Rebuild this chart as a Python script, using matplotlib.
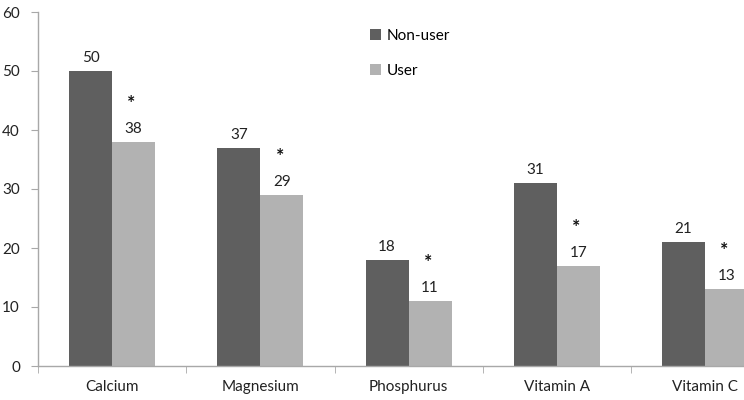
import matplotlib.pyplot as plt
import numpy as np

categories = ["Calcium", "Magnesium", "Phosphurus", "Vitamin A", "Vitamin C"]
non_user = [50, 37, 18, 31, 21]
user = [38, 29, 11, 17, 13]
significant = [True, True, True, True, True]

plt.rcParams['font.family'] = ['Lato', 'DejaVu Sans']

fig = plt.figure(figsize=(7.44, 4.0), dpi=100)
ax = fig.add_axes([38 / 744, 34 / 400, 706 / 744, 354 / 400])

x = np.arange(len(categories))
w = 0.29
dark = "#5f5f5f"
light = "#b2b2b2"
fs = 11

ax.bar(x - w / 2, non_user, w, color=dark, label="Non-user")
ax.bar(x + w / 2, user, w, color=light, label="User")

# value labels and asterisks
for i in range(len(categories)):
    ax.annotate(str(non_user[i]), (x[i] - w / 2, non_user[i]), xytext=(0, 6),
                textcoords="offset pixels", ha="center", va="bottom", fontsize=fs, color="#222222")
    ax.annotate(str(user[i]), (x[i] + w / 2, user[i]), xytext=(0, 6),
                textcoords="offset pixels", ha="center", va="bottom", fontsize=fs, color="#222222")
    if significant[i]:
        ax.annotate("*", (x[i] + w / 2, user[i]), xytext=(-2, 30),
                    textcoords="offset pixels", ha="center", va="bottom", fontsize=14,
                    fontweight="bold", color="#111111")

ax.set_yticks(range(0, 61, 10))
ax.set_xticks(x)
ax.set_xticklabels(categories, fontsize=fs, color="#222222")
ax.set_xticks(np.arange(-0.5, len(categories), 1), minor=True)
ax.set_xlim(-0.5, -0.5 + 706 / 148.25)
ax.set_ylim(0, 60)
ax.tick_params(axis="x", which="major", length=0, pad=10)
ax.tick_params(axis="x", which="minor", length=5, color="#a8a8a8", direction="out")
ax.tick_params(axis="y", length=5, color="#a8a8a8", labelsize=fs, labelcolor="#222222", pad=8)

for s in ["top", "right"]:
    ax.spines[s].set_visible(False)
for s in ["left", "bottom"]:
    ax.spines[s].set_color("#a8a8a8")
    ax.spines[s].set_linewidth(1.0)

ax.legend(loc="upper left", bbox_to_anchor=(362 / 744, 1 - 21 / 400), bbox_transform=fig.transFigure,
          frameon=False, fontsize=fs, handlelength=0.75, handleheight=0.75,
          handletextpad=0.35, labelspacing=1.4, borderpad=0)

fig.savefig("out.png", dpi=100)
